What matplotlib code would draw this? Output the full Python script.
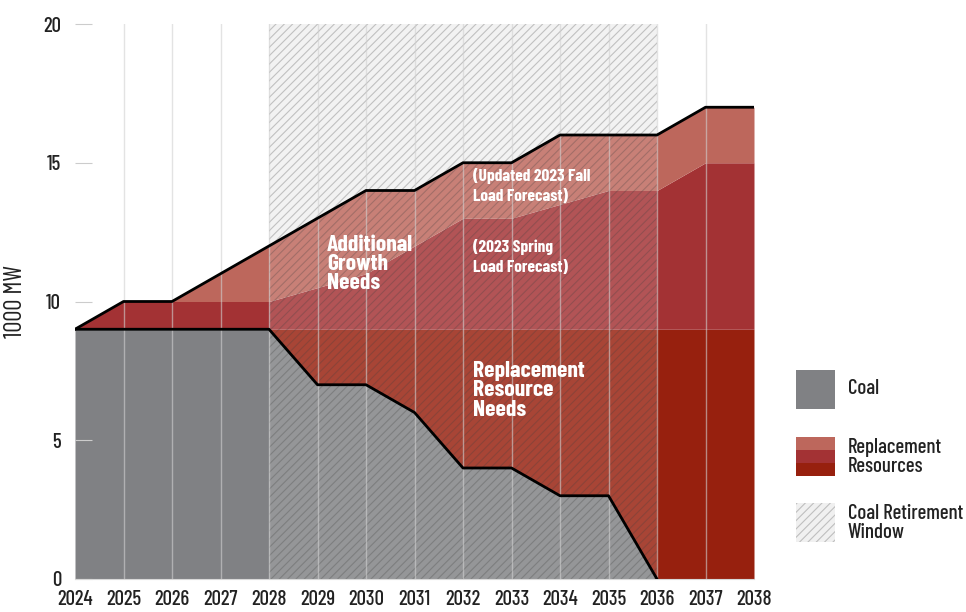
import numpy as np
import matplotlib.pyplot as plt
from matplotlib.patches import Rectangle

plt.rcParams['font.family'] = ['Barlow Condensed', 'DejaVu Sans']
plt.rcParams['font.weight'] = 500
plt.rcParams['hatch.linewidth'] = 0.8

years = np.arange(2024, 2039)
coal = [9, 9, 9, 9, 9, 7, 7, 6, 4, 4, 3, 3, 0, 0, 0]
coal_base = 9
spring_forecast = [9, 10, 10, 10, 10, 10.5, 11, 12, 13, 13, 13.5, 14, 14, 15, 15]
fall_forecast = [9, 10, 10, 11, 12, 13, 14, 14, 15, 15, 16, 16, 16, 17, 17]
window_start, window_end = 2028, 2036
coal_end = 2036

c_coal = '#808184'
c_dark = '#97200e'
c_mid = '#a33234'
c_light = '#bd675c'
hatch_col = (0.25, 0.25, 0.25, 0.28)

fig = plt.figure(figsize=(9.66, 6.12), dpi=100)
ax = fig.add_axes([75 / 966, 33 / 612, 679 / 966, 555 / 612])

# retirement window background
ax.axvspan(window_start, window_end, facecolor='#f0f0f0', edgecolor='none', zorder=0)

ax.fill_between(years, 0, coal, color=c_coal, lw=0, zorder=1)
ax.fill_between(years, coal, coal_base, color=c_dark, lw=0, zorder=1)
ax.fill_between(years, coal_base, spring_forecast, color=c_mid, lw=0, zorder=1)
ax.fill_between(years, spring_forecast, fall_forecast, color=c_light, lw=0, zorder=1)

# hatch overlay
ax.axvspan(window_start, window_end, facecolor=(1, 1, 1, 0.17), edgecolor=hatch_col,
           hatch='////', lw=0, zorder=2)

for yr in years[1:-1]:
    ax.axvline(yr, color=(0.82, 0.82, 0.82, 0.6), lw=1, zorder=3)

ax.plot(years, fall_forecast, color='black', lw=2, zorder=4)
mask = years <= coal_end
ax.plot(years[mask], np.array(coal)[mask], color='black', lw=2, zorder=4)

ax.set_xlim(2024, 2038)
ax.set_ylim(0, 20)
ax.set_xticks(years)
ax.set_xticklabels([str(y) for y in years])
ax.set_yticks([0, 5, 10, 15, 20])
for s in ['top', 'right', 'left']:
    ax.spines[s].set_visible(False)
ax.spines['bottom'].set_color('#d8d8d8')
ax.tick_params(axis='x', length=0, labelsize=15, colors='#222222', pad=8)
ax.tick_params(axis='y', direction='in', length=12, color='#cccccc', labelsize=15,
               labelcolor='#222222', pad=10)
ax.set_ylabel('1000 MW', fontsize=18, color='#222222', labelpad=12)

txt = dict(color='white', fontweight='bold', va='top', ha='left', linespacing=0.95)
ax.text(2029.2, 12.4, 'Additional\nGrowth\nNeeds', fontsize=17, **txt)
ax.text(2032.2, 14.8, '(Updated 2023 Fall\nLoad Forecast)', fontsize=12.5, **dict(txt, linespacing=1.4))
ax.text(2032.2, 12.25, '(2023 Spring\nLoad Forecast)', fontsize=12.5, **dict(txt, linespacing=1.4))
ax.text(2032.2, 7.85, 'Replacement\nResource\nNeeds', fontsize=17, **txt)

# legend
W, H = 966, 612
def box(x, y, w, h, **kw):
    fig.add_artist(Rectangle((x / W, 1 - (y + h) / H), w / W, h / H, transform=fig.transFigure, **kw))

box(796, 370, 39, 39, facecolor=c_coal, lw=0)
box(796, 437, 39, 13, facecolor=c_light, lw=0)
box(796, 450, 39, 13, facecolor=c_mid, lw=0)
box(796, 463, 39, 13, facecolor=c_dark, lw=0)
box(796, 503, 39, 39, facecolor='#f0f0f0', edgecolor=hatch_col, hatch='////', lw=0)

lt = dict(fontsize=15, color='#222222', va='center', ha='left', linespacing=1.0)
fig.text(848 / W, 1 - 389 / H, 'Coal', **lt)
fig.text(848 / W, 1 - 457 / H, 'Replacement\nResources', **lt)
fig.text(848 / W, 1 - 523 / H, 'Coal Retirement\nWindow', **lt)

fig.savefig('out.png', dpi=100)
